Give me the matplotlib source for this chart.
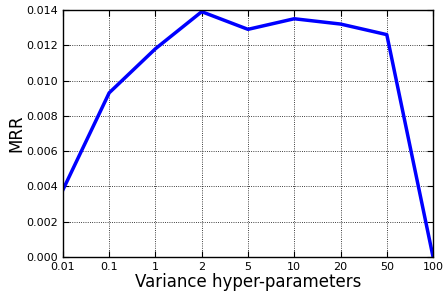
import numpy as np
import matplotlib
matplotlib.use("Agg")
import matplotlib.pyplot as plt

labels = ["0.01", "0.1", "1", "2", "5", "10", "20", "50", "100"]
mrr = [0.0038, 0.0093, 0.0118, 0.0139, 0.0129, 0.0135, 0.0132, 0.0126, 0.0]

plt.rcParams["xtick.direction"] = "in"
plt.rcParams["ytick.direction"] = "in"

fig = plt.figure(figsize=(4.46, 2.92), dpi=100)
ax = fig.add_axes([0.141, 0.120, 0.830, 0.846])
x = np.arange(len(labels))
ax.plot(x, mrr, color="blue", linewidth=2.5)

ax.set_xlim(0, len(labels) - 1)
ax.set_ylim(0, 0.014)
ax.set_xticks(x)
ax.set_xticklabels(labels)
ax.set_yticks(np.arange(0, 0.0141, 0.002))
ax.set_yticklabels(["%.3f" % v for v in np.arange(0, 0.0141, 0.002)])
ax.tick_params(labelsize=8, top=True, right=True, length=4, width=0.8)
ax.grid(True, color="black", linestyle=":", linewidth=0.6)
for s in ax.spines.values():
    s.set_linewidth(1.0)
ax.set_xlabel("Variance hyper-parameters", fontsize=12, labelpad=1)
ax.set_ylabel("MRR", fontsize=12, labelpad=1)

fig.savefig("out.png", dpi=100)
